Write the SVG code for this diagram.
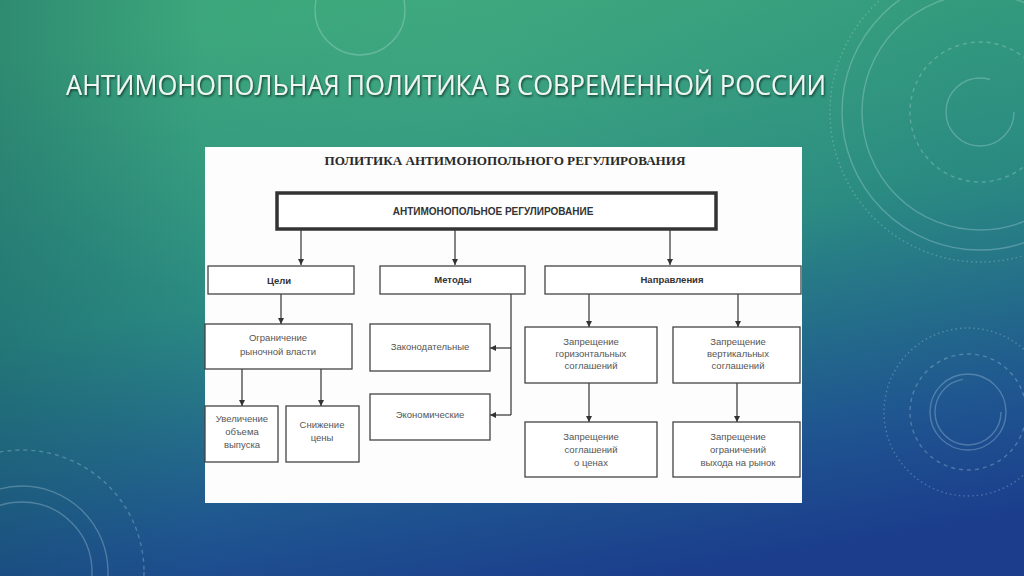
<svg xmlns="http://www.w3.org/2000/svg" width="1024" height="576" viewBox="0 0 1024 576">
<defs>
<linearGradient id="bg" x1="0.35" y1="0" x2="0.65" y2="1">
<stop offset="0" stop-color="#39a47a"/>
<stop offset="0.45" stop-color="#2a8a82"/>
<stop offset="0.8" stop-color="#1f5690"/>
<stop offset="1" stop-color="#1b3d8c"/>
</linearGradient>
<radialGradient id="glow" cx="0.45" cy="0.1" r="0.5">
<stop offset="0" stop-color="#4fb888" stop-opacity="0.3"/>
<stop offset="1" stop-color="#4fb888" stop-opacity="0"/>
</radialGradient>
<linearGradient id="edge" x1="0" y1="0" x2="1" y2="0">
<stop offset="0" stop-color="#0e3f55" stop-opacity="0.25"/>
<stop offset="0.2" stop-color="#0e3f55" stop-opacity="0"/>
</linearGradient>
<filter id="sh" x="-5%" y="-30%" width="110%" height="160%">
<feDropShadow dx="1" dy="1.5" stdDeviation="1" flood-color="#0b2a26" flood-opacity="0.85"/>
</filter>
<marker id="ah" viewBox="0 0 10 10" refX="10" refY="5" markerWidth="6" markerHeight="6" markerUnits="userSpaceOnUse" orient="auto">
<path d="M0,0 L10,5 L0,10 z" fill="#333"/>
</marker>
</defs>
<style>
.deco{fill:none;stroke:#cfe8ef;stroke-opacity:0.28;stroke-width:1.4}
.dash{stroke-dasharray:4 4}
.dot{stroke-dasharray:1.5 3}
.box{fill:#fff;stroke:#444;stroke-width:1.3}
.t{font-family:"Liberation Sans",Arial,sans-serif;font-size:9.5px;fill:#555;text-anchor:middle}
.tb{font-family:"Liberation Sans",Arial,sans-serif;font-size:9.5px;font-weight:bold;fill:#333;text-anchor:middle}
.ln{stroke:#333;stroke-width:1.2;fill:none}
.arr{stroke:#333;stroke-width:1.2;fill:none;marker-end:url(#ah)}
</style>
<rect width="1024" height="576" fill="url(#bg)"/>
<rect width="1024" height="576" fill="url(#glow)"/>
<rect width="1024" height="576" fill="url(#edge)"/>
<g id="decor">
<circle class="deco" cx="980" cy="112" r="34" stroke-dasharray="170 44"/>
<circle class="deco dash" cx="980" cy="112" r="70"/>
<circle class="deco" cx="980" cy="112" r="118"/>
<circle class="deco" cx="980" cy="112" r="138"/>
<circle class="deco dot" cx="980" cy="112" r="150" stroke-width="4"/>
<circle class="deco" cx="968" cy="412" r="38"/>
<circle class="deco" cx="968" cy="412" r="33" stroke-dasharray="150 60"/>
<circle class="deco dash" cx="968" cy="412" r="58"/>
<circle class="deco dot" cx="968" cy="412" r="84"/>
<circle class="deco" cx="22" cy="572" r="70"/>
<circle class="deco" cx="22" cy="572" r="86"/>
<circle class="deco dash" cx="22" cy="572" r="122"/>
<circle class="deco" cx="360" cy="10" r="45" stroke-opacity="0.15"/>
</g>
<text x="66" y="95" font-family="'Open Sans','Liberation Sans',sans-serif" font-size="28" fill="#eef6f0" textLength="760" lengthAdjust="spacingAndGlyphs" filter="url(#sh)">АНТИМОНОПОЛЬНАЯ ПОЛИТИКА В СОВРЕМЕННОЙ РОССИИ</text>
<rect x="205" y="147" width="597" height="356" fill="#fdfdfd"/>
<text x="505" y="165" font-family="'Liberation Serif','Times New Roman',serif" font-size="13" font-weight="bold" fill="#2a2a2a" text-anchor="middle" textLength="361" lengthAdjust="spacingAndGlyphs">ПОЛИТИКА АНТИМОНОПОЛЬНОГО РЕГУЛИРОВАНИЯ</text>
<g id="connectors">
<path class="arr" d="M301,230 V265"/>
<path class="arr" d="M455,230 V265"/>
<path class="arr" d="M670,230 V265"/>
<path class="arr" d="M281,294 V324"/>
<path class="arr" d="M242,369 V406"/>
<path class="arr" d="M321,369 V406"/>
<path class="ln" d="M511,294 V415"/>
<path class="arr" d="M511,348 H490"/>
<path class="arr" d="M511,415 H490"/>
<path class="arr" d="M589,294 V327"/>
<path class="arr" d="M738,294 V327"/>
<path class="arr" d="M589,383 V422"/>
<path class="arr" d="M737,383 V422"/>
</g>
<g id="n-root">
<rect x="277" y="193" width="439" height="36" fill="#fff" stroke="#333" stroke-width="3.5"/>
<text x="493" y="215" font-family="'Liberation Sans',Arial,sans-serif" font-size="10" font-weight="bold" fill="#333" text-anchor="middle">АНТИМОНОПОЛЬНОЕ РЕГУЛИРОВАНИЕ</text>
</g>
<g id="n-goals"><rect class="box" x="208" y="266" width="146" height="28" stroke-width="2"/><text class="tb" x="279" y="284">Цели</text></g>
<g id="n-methods"><rect class="box" x="380" y="266" width="145" height="28" stroke-width="2"/><text class="tb" x="453" y="283">Методы</text></g>
<g id="n-dirs"><rect class="box" x="545" y="266" width="256" height="28" stroke-width="2"/><text class="tb" x="672" y="283">Направления</text></g>
<g id="n-limit"><rect class="box" x="205" y="324" width="147" height="45"/><text class="t" x="278" y="341">Ограничение</text><text class="t" x="278" y="355">рыночной власти</text></g>
<g id="n-output"><rect class="box" x="205" y="406" width="73" height="56"/><text class="t" x="242" y="422">Увеличение</text><text class="t" x="242" y="435">объема</text><text class="t" x="242" y="448">выпуска</text></g>
<g id="n-price"><rect class="box" x="286" y="406" width="73" height="56"/><text class="t" x="322" y="428">Снижение</text><text class="t" x="322" y="441">цены</text></g>
<g id="n-law"><rect class="box" x="370" y="324" width="120" height="47"/><text class="t" x="430" y="350">Законодательные</text></g>
<g id="n-econ"><rect class="box" x="370" y="394" width="120" height="46"/><text class="t" x="430" y="418">Экономические</text></g>
<g id="n-horiz"><rect class="box" x="525" y="327" width="132" height="56"/><text class="t" x="591" y="345">Запрещение</text><text class="t" x="591" y="357">горизонтальных</text><text class="t" x="591" y="369">соглашений</text></g>
<g id="n-vert"><rect class="box" x="673" y="327" width="127" height="56"/><text class="t" x="738" y="345">Запрещение</text><text class="t" x="738" y="357">вертикальных</text><text class="t" x="738" y="369">соглашений</text></g>
<g id="n-prices"><rect class="box" x="525" y="422" width="132" height="55"/><text class="t" x="591" y="440">Запрещение</text><text class="t" x="591" y="453">соглашений</text><text class="t" x="591" y="466">о ценах</text></g>
<g id="n-entry"><rect class="box" x="673" y="422" width="127" height="55"/><text class="t" x="738" y="440">Запрещение</text><text class="t" x="738" y="453">ограничений</text><text class="t" x="738" y="466">выхода на рынок</text></g>
</svg>
